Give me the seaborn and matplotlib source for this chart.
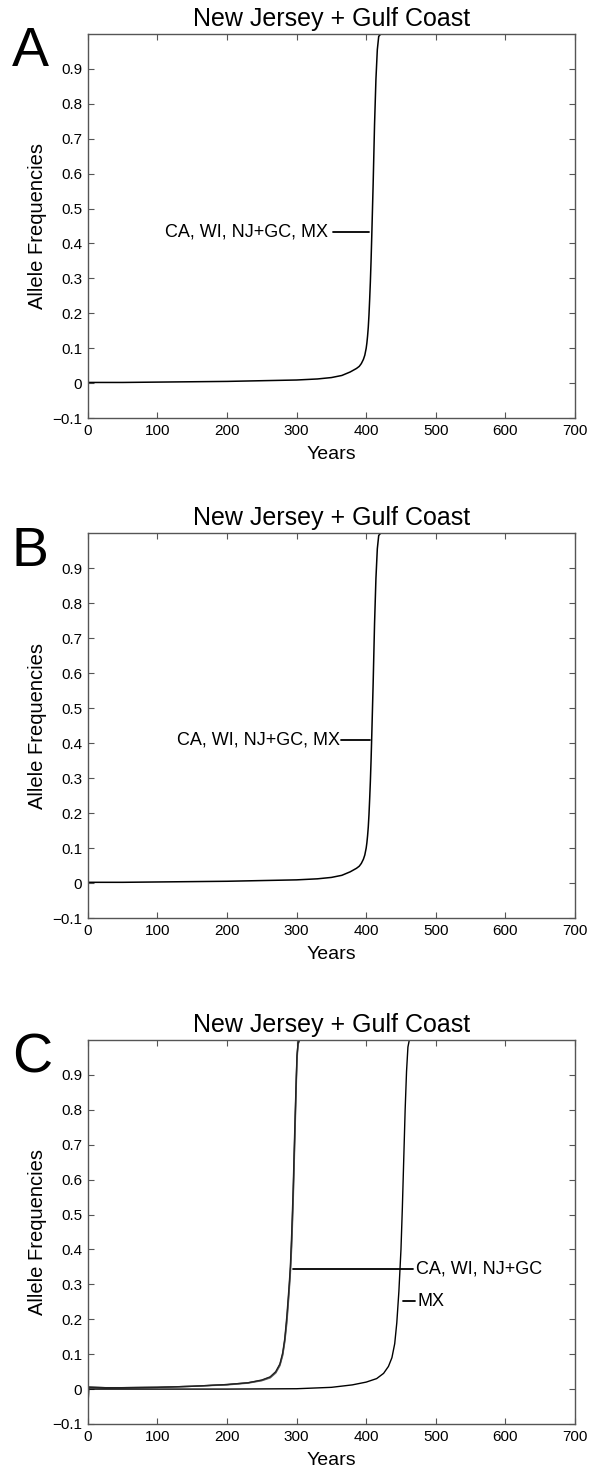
import numpy as np
import pandas as pd
import matplotlib
matplotlib.use('Agg')
import matplotlib.pyplot as plt
import seaborn as sns

sns.set_style('white')
plt.rcParams['font.family'] = ['Liberation Sans', 'DejaVu Sans']
plt.rcParams['text.color'] = 'black'
plt.rcParams['axes.labelcolor'] = 'black'

# panel A / B : all populations together
years_a = [0, 50, 100, 150, 200, 250, 300, 330, 350, 365, 377, 386, 390, 393,
           396, 398, 400, 401, 402, 403, 404, 405, 406, 407, 408, 410, 412, 414,
           416, 418, 421, 700]
freq_a = [0.002, 0.002, 0.003, 0.004, 0.005, 0.007, 0.009, 0.012, 0.016, 0.022,
          0.032, 0.042, 0.048, 0.056, 0.068, 0.08, 0.1, 0.115, 0.135, 0.16,
          0.195, 0.24, 0.29, 0.35, 0.42, 0.57, 0.74, 0.87, 0.955, 0.993, 1.0, 1.0]

years_b = [0, 50, 100, 150, 200, 250, 300, 330, 350, 365, 377, 386, 390, 393,
           396, 398, 400, 401, 402, 403, 404, 405, 406, 407, 408, 410, 412, 414,
           416, 418, 421, 700]
freq_b = [0.002, 0.002, 0.003, 0.004, 0.005, 0.007, 0.009, 0.012, 0.016, 0.022,
          0.032, 0.042, 0.048, 0.056, 0.068, 0.08, 0.1, 0.115, 0.135, 0.16,
          0.195, 0.24, 0.29, 0.35, 0.42, 0.57, 0.74, 0.87, 0.955, 0.993, 1.0, 1.0]

# panel C : CA, WI, NJ+GC sweep early, MX later
years_c = [0, 2, 25, 50, 100, 150, 200, 230, 250, 262, 270, 276, 280, 283, 286,
           289, 291, 293, 295, 297, 299, 300.5, 302, 304, 700]
freq_ca = [0.008, 0.006, 0.004, 0.004, 0.005, 0.008, 0.013, 0.018, 0.025, 0.034,
           0.048, 0.07, 0.1, 0.14, 0.2, 0.28, 0.34, 0.43, 0.55, 0.7, 0.85, 0.95,
           0.99, 1.0, 1.0]
freq_wi = [-0.04, 0.004, 0.003, 0.004, 0.005, 0.008, 0.012, 0.017, 0.024, 0.032,
           0.046, 0.067, 0.096, 0.135, 0.19, 0.27, 0.33, 0.41, 0.53, 0.68, 0.83,
           0.94, 0.985, 1.0, 1.0]
freq_njgc = [0.005, 0.005, 0.004, 0.004, 0.005, 0.008, 0.013, 0.018, 0.026, 0.035,
             0.05, 0.072, 0.104, 0.145, 0.21, 0.29, 0.35, 0.45, 0.57, 0.72, 0.86,
             0.955, 0.99, 1.0, 1.0]

years_mx = [0, 100, 200, 300, 350, 380, 400, 415, 425, 432, 437, 441, 444, 447,
            450, 452, 454, 456, 458, 460, 462, 700]
freq_mx = [0.0, 0.0, 0.0, 0.001, 0.005, 0.012, 0.02, 0.03, 0.045, 0.065, 0.09,
           0.13, 0.19, 0.28, 0.40, 0.52, 0.66, 0.8, 0.91, 0.98, 1.0, 1.0]

fig = plt.figure(figsize=(5.9, 14.7), dpi=100)

positions = [[0.149, 0.7156, 0.8254, 0.2613],
             [0.149, 0.3755, 0.8254, 0.2619],
             [0.149, 0.0313, 0.8254, 0.2612]]
letters = ['A', 'B', 'C']
axes = [fig.add_axes(p) for p in positions]


def style_axis(ax, letter):
    ax.set_xlim(0, 700)
    ax.set_ylim(-0.1, 1.0)
    ax.set_xticks(np.arange(0, 701, 100))
    ax.set_yticks(np.round(np.arange(-0.1, 0.95, 0.1), 1))
    ax.set_yticklabels(['\u22120.1', '0', '0.1', '0.2', '0.3', '0.4', '0.5',
                        '0.6', '0.7', '0.8', '0.9'])
    ax.tick_params(direction='in', length=4, width=0.8, colors='#555555',
                   labelcolor='black', labelsize=11, pad=4,
                   top=True, right=True, bottom=True, left=True)
    for s in ax.spines.values():
        s.set_visible(True)
        s.set_color('#555555')
        s.set_linewidth(1.0)
    ax.set_title('New Jersey + Gulf Coast', fontsize=18, pad=6, color='black')
    ax.set_xlabel('Years', fontsize=14, labelpad=6)
    ax.set_ylabel('Allele Frequencies', fontsize=14.5, labelpad=4)
    ax.text(-0.156, 0.952, letter, transform=ax.transAxes, fontsize=40,
            ha='left', va='center', color='black')


# A
sns.lineplot(x=years_a, y=freq_a, ax=axes[0], color='black', lw=1.1, sort=False)
axes[0].plot([352, 404], [0.433, 0.433], color='black', lw=1.3)
axes[0].text(345, 0.433, 'CA, WI, NJ+GC, MX', fontsize=13, ha='right', va='center')

# B
sns.lineplot(x=years_b, y=freq_b, ax=axes[1], color='black', lw=1.1, sort=False)
axes[1].plot([364, 406], [0.41, 0.41], color='black', lw=1.3)
axes[1].text(362, 0.41, 'CA, WI, NJ+GC, MX', fontsize=13, ha='right', va='center')

# C
for f, c in zip([freq_ca, freq_wi, freq_njgc], ['#333333', '#666666', '#222222']):
    sns.lineplot(x=years_c, y=f, ax=axes[2], color=c, lw=1.0, sort=False)
sns.lineplot(x=years_mx, y=freq_mx, ax=axes[2], color='black', lw=1.0, sort=False)
axes[2].plot([295, 467], [0.344, 0.344], color='black', lw=1.3)
axes[2].text(472, 0.344, 'CA, WI, NJ+GC', fontsize=13, ha='left', va='center')
axes[2].plot([453, 470], [0.252, 0.252], color='black', lw=1.3)
axes[2].text(474, 0.252, 'MX', fontsize=13, ha='left', va='center')

for ax, letter in zip(axes, letters):
    style_axis(ax, letter)

fig.savefig('out.png', dpi=100)
plt.close()
